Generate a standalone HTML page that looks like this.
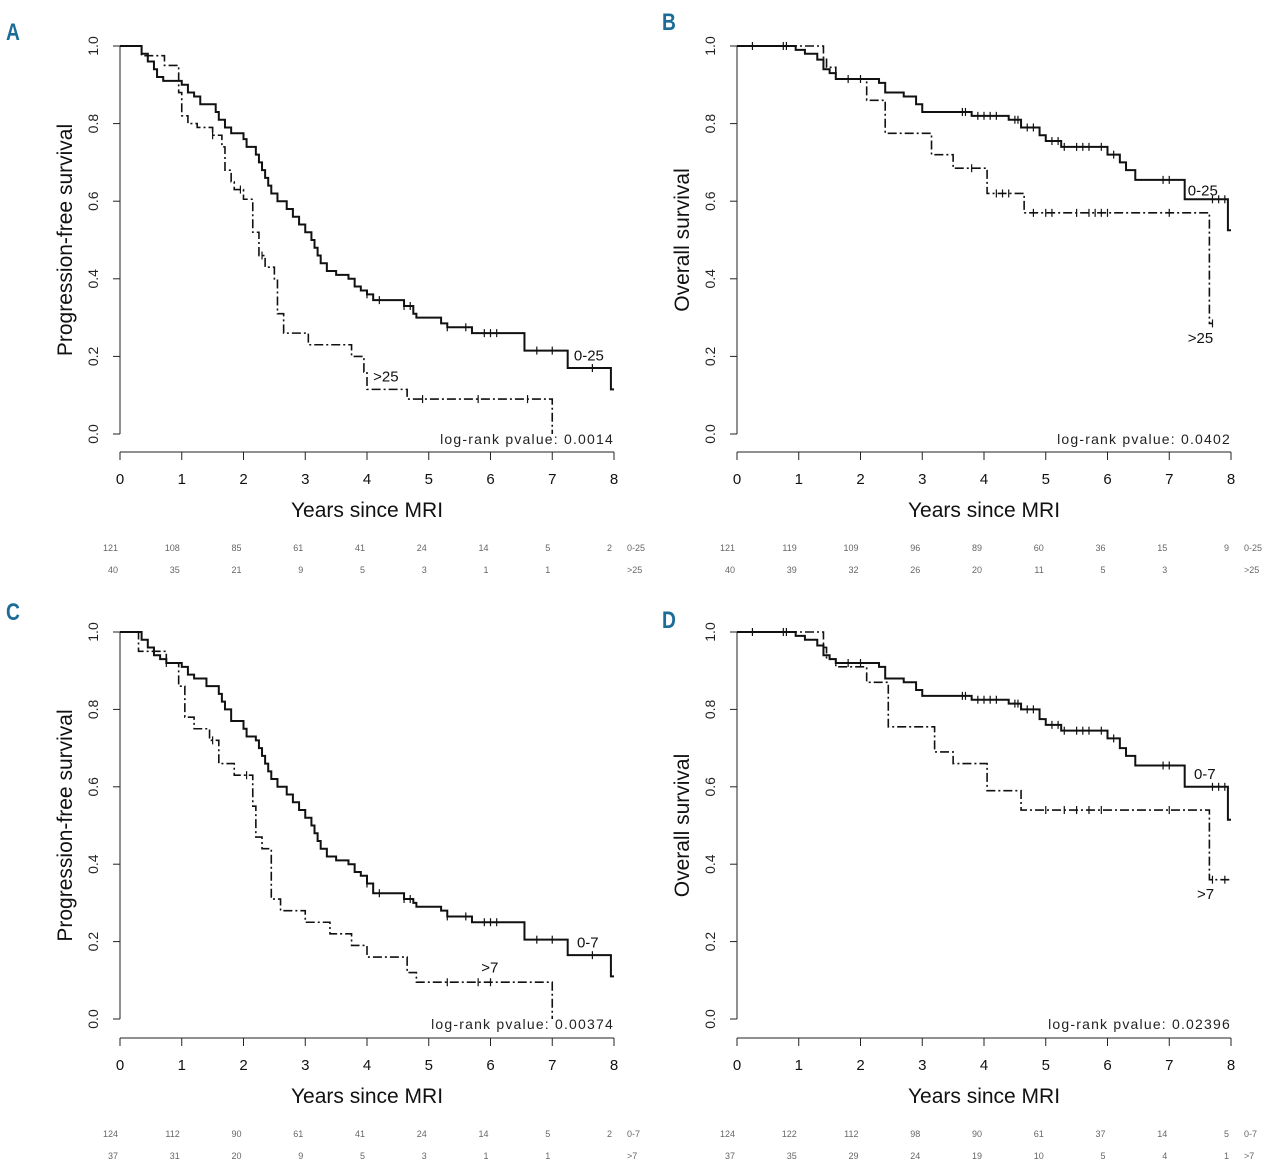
<!DOCTYPE html>
<html><head><meta charset="utf-8"><style>
html,body{margin:0;padding:0;background:#fff;}
svg{display:block;font-family:"Liberation Sans",sans-serif;}
</style></head><body>
<svg id="fig" width="1280" height="1165" viewBox="0 0 1280 1165" xmlns="http://www.w3.org/2000/svg"></svg>
<script>
// ---- data ----
const xTicks=[0,1,2,3,4,5,6,7,8];
const yTicks=[0,0.2,0.4,0.6,0.8,1.0];
// Panel A
const aSolidT=[0,0.35,0.45,0.55,0.6,0.7,1.0,1.1,1.2,1.3,1.55,1.6,1.7,1.8,2.0,2.05,2.2,2.25,2.3,2.35,2.4,2.45,2.55,2.7,2.8,2.9,3.0,3.1,3.15,3.2,3.25,3.35,3.5,3.7,3.8,3.9,4.0,4.1,4.6,4.75,4.8,5.2,5.3,5.7,6.55,7.25,7.95];
const aSolidS=[1,0.98,0.96,0.94,0.92,0.91,0.90,0.88,0.87,0.85,0.83,0.81,0.79,0.775,0.76,0.74,0.72,0.70,0.68,0.66,0.64,0.62,0.60,0.58,0.56,0.54,0.52,0.50,0.48,0.46,0.44,0.42,0.41,0.40,0.38,0.37,0.36,0.345,0.33,0.31,0.30,0.285,0.275,0.26,0.215,0.17,0.115];
const aSolidC=[4.0,4.2,4.6,4.7,5.3,5.6,5.9,6.0,6.1,6.75,7.0,7.65];
const aDashT=[0,0.35,0.72,0.95,1.0,1.1,1.25,1.5,1.65,1.7,1.8,1.85,2.0,2.15,2.25,2.35,2.5,2.55,2.65,3.05,3.75,3.95,4.0,4.65,7.0];
const aDashS=[1,0.975,0.95,0.88,0.82,0.80,0.79,0.77,0.74,0.68,0.65,0.63,0.605,0.52,0.46,0.43,0.40,0.31,0.26,0.23,0.20,0.16,0.115,0.09,0.0];
const aDashC=[1.5,1.95,2.3,4.9,5.8,6.6];
// Panel B
const bSolidT=[0,0.95,1.1,1.3,1.4,1.5,1.6,2.3,2.4,2.7,2.9,3.0,3.8,4.4,4.6,4.9,5.0,5.25,6.0,6.2,6.3,6.45,7.25,7.95];
const bSolidS=[1,0.99,0.98,0.965,0.94,0.93,0.915,0.905,0.88,0.87,0.85,0.83,0.82,0.81,0.79,0.77,0.755,0.74,0.72,0.70,0.68,0.655,0.605,0.525];
const bSolidC=[0.25,0.75,1.8,2.0,3.65,3.7,3.9,4.0,4.1,4.2,4.5,4.55,4.7,4.8,5.1,5.2,5.3,5.5,5.6,5.7,5.9,6.1,6.9,7.0,7.7,7.8,7.9];
const bDashT=[0,1.4,1.45,1.6,1.7,2.1,2.4,3.15,3.5,4.05,4.65,7.65];
const bDashS=[1,0.97,0.945,0.915,0.915,0.86,0.775,0.72,0.685,0.62,0.57,0.285];
const bDashC=[0.8,3.8,4.2,4.3,4.4,4.8,5.0,5.1,5.5,5.7,5.8,5.9,6.0,7.0,7.7];
// Panel C
const cSolidT=[0,0.35,0.45,0.55,0.65,0.75,1.0,1.1,1.2,1.4,1.6,1.65,1.7,1.8,2.0,2.05,2.2,2.25,2.3,2.35,2.4,2.45,2.55,2.7,2.8,2.9,3.0,3.1,3.15,3.2,3.25,3.35,3.5,3.7,3.8,3.9,4.0,4.1,4.6,4.75,4.8,5.2,5.3,5.7,6.55,7.25,7.95];
const cSolidS=[1,0.98,0.96,0.94,0.93,0.92,0.91,0.89,0.88,0.86,0.84,0.82,0.80,0.77,0.75,0.73,0.72,0.70,0.68,0.66,0.64,0.62,0.60,0.58,0.56,0.54,0.52,0.50,0.48,0.46,0.44,0.42,0.41,0.40,0.38,0.37,0.35,0.325,0.31,0.30,0.29,0.28,0.265,0.25,0.205,0.165,0.11];
const cSolidC=[4.0,4.2,4.6,4.7,5.3,5.6,5.9,6.0,6.1,6.75,7.0,7.65];
const cDashT=[0,0.3,0.35,0.75,0.95,1.05,1.2,1.45,1.6,1.85,2.15,2.2,2.3,2.45,2.6,3.0,3.4,3.75,4.0,4.65,4.8,7.0];
const cDashS=[1,0.95,0.95,0.92,0.86,0.78,0.75,0.72,0.66,0.63,0.55,0.47,0.44,0.31,0.28,0.25,0.22,0.19,0.16,0.12,0.095,0.0];
const cDashC=[0.75,1.5,2.05,5.3,5.8,6.0];
// Panel D
const dSolidT=[0,0.95,1.1,1.3,1.4,1.5,1.6,2.3,2.4,2.7,2.9,3.0,3.8,4.4,4.6,4.9,5.0,5.25,6.0,6.2,6.3,6.45,7.25,7.95];
const dSolidS=[1,0.99,0.98,0.965,0.94,0.93,0.92,0.91,0.88,0.87,0.85,0.835,0.825,0.815,0.80,0.775,0.76,0.745,0.725,0.70,0.68,0.655,0.60,0.515];
const dSolidC=[0.25,0.75,1.8,2.0,3.65,3.7,3.9,4.0,4.1,4.2,4.5,4.55,4.7,4.8,5.1,5.2,5.3,5.5,5.6,5.7,5.9,6.1,6.9,7.0,7.7,7.8,7.9];
const dDashT=[0,1.4,1.45,1.6,2.1,2.45,3.2,3.5,4.05,4.6,7.65];
const dDashS=[1,0.96,0.93,0.91,0.87,0.755,0.69,0.66,0.59,0.54,0.36];
const dDashC=[0.8,5.0,5.3,5.5,5.7,5.9,7.0,7.7,7.9];
// at-risk tables
const aRisk1=[121,108,85,61,41,24,14,5,2], aRisk2=[40,35,21,9,5,3,1,1,""];
const bRisk1=[121,119,109,96,89,60,36,15,9], bRisk2=[40,39,32,26,20,11,5,3,""];
const cRisk1=[124,112,90,61,41,24,14,5,2], cRisk2=[37,31,20,9,5,3,1,1,""];
const dRisk1=[124,122,112,98,90,61,37,14,5], dRisk2=[37,35,29,24,19,10,5,4,1];

const NS="http://www.w3.org/2000/svg";
const svg=document.getElementById('fig');
function mk(tag,attrs,parent,text){const e=document.createElementNS(NS,tag);for(const k in attrs)e.setAttribute(k,attrs[k]);if(text!==undefined)e.textContent=text;(parent||svg).appendChild(e);return e;}

function panel(o){
  const g=mk('g',{});
  
  
  const X=v=>o.x0+v*61.75, Y=v=>o.y0-v*(o.y0-o.y1);
  const lab=mk('text',{x:o.lx,y:o.ly,'font-size':24,'font-weight':'bold',fill:'#1b6c96',transform:`translate(${o.lx},0) scale(0.8,1) translate(${-o.lx},0)`},g,o.letter);
  
  
  const ya=mk('line',{x1:o.x0,y1:Y(1),x2:o.x0,y2:Y(0),stroke:'#222','stroke-width':1},g);
  
  
  yTicks.forEach(t=>{
    mk('line',{x1:o.x0-7,y1:Y(t),x2:o.x0,y2:Y(t),stroke:'#222'},g);
    const tl=mk('text',{x:0,y:0,transform:`translate(${o.x0-22},${Y(t)}) rotate(-90)`,'text-anchor':'middle','font-size':14,fill:'#222'},g,t.toFixed(1));
    
    
  });
  const yt=mk('text',{transform:`translate(${o.x0-48},${(Y(0)+Y(1))/2}) rotate(-90)`,'text-anchor':'middle','font-size':21,fill:'#111'},g,o.ytitle);
  
  
  const xa=mk('line',{x1:X(0),y1:o.xa,x2:X(8),y2:o.xa,stroke:'#222'},g);
  
  
  xTicks.forEach(t=>{
    mk('line',{x1:X(t),y1:o.xa,x2:X(t),y2:o.xa+8,stroke:'#222'},g);
    const tl=mk('text',{x:X(t),y:o.xa+32,'text-anchor':'middle','font-size':15,fill:'#111'},g,String(t));
    
    
  });
  const xt=mk('text',{x:X(4),y:o.xa+65,'text-anchor':'middle','font-size':21,fill:'#111'},g,'Years since MRI');
  
  
  function curve(T,S,C,dash,name,endT){
    let d=`M${X(T[0])},${Y(S[0])}`;
    for(let i=1;i<T.length;i++){d+=`H${X(T[i])}V${Y(S[i])}`;}
    d+=`H${X(endT)}`;
    const p=mk('path',{d:d,fill:'none',stroke:'#111','stroke-width':dash?1.6:2,'stroke-dasharray':dash?'9,3,2,3':'none'},g);
    
    
    C.forEach(c=>{
      let s=S[0];for(let i=0;i<T.length;i++){if(T[i]<=c)s=S[i];}
      const m=mk('line',{x1:X(c),y1:Y(s)-4,x2:X(c),y2:Y(s)+4,stroke:'#111','stroke-width':1.2},g);
      
      
    });
  }
  curve(o.sT,o.sS,o.sC,false,'curve-low-group',8);
  curve(o.dT,o.dS,o.dC,true,'curve-high-group',o.dEnd);
  const l1=mk('text',{x:X(o.l1[0]),y:Y(o.l1[1]),'font-size':15,fill:'#111'},g,o.g1);
  
  
  const l2=mk('text',{x:X(o.l2[0]),y:Y(o.l2[1]),'font-size':15,fill:'#111'},g,o.g2);
  
  
  const pv=mk('text',{x:X(8),y:Y(0)+10,'text-anchor':'end','font-size':14,fill:'#222','letter-spacing':'1.2'},g,'log-rank pvalue: '+o.p);
  
  
  [o.r1,o.r2].forEach((row,ri)=>{
    const yy=o.xa+99+ri*22;
    row.forEach((v,i)=>{
      const t=mk('text',{x:X(xTicks[i])-2,y:yy,'text-anchor':'end','font-size':9,fill:'#666'},g,String(v));
      
      
    });
    const gl=mk('text',{x:X(8)+13,y:yy,'font-size':9,fill:'#666'},g,ri?o.g2:o.g1);
    
    
  });
}
panel({letter:'A',lx:6,ly:40,x0:120,y1:46,y0:434,xa:452,ytitle:'Progression-free survival',sT:aSolidT,sS:aSolidS,sC:aSolidC,dT:aDashT,dS:aDashS,dC:aDashC,dEnd:7.0,g1:'0-25',g2:'>25',l1:[7.35,0.19],l2:[4.1,0.135],p:'0.0014',r1:aRisk1,r2:aRisk2});
panel({letter:'B',lx:662,ly:30,x0:737,y1:46,y0:434,xa:452,ytitle:'Overall survival',sT:bSolidT,sS:bSolidS,sC:bSolidC,dT:bDashT,dS:bDashS,dC:bDashC,dEnd:7.7,g1:'0-25',g2:'>25',l1:[7.3,0.615],l2:[7.3,0.235],p:'0.0402',r1:bRisk1,r2:bRisk2});
panel({letter:'C',lx:6,ly:620,x0:120,y1:632,y0:1019,xa:1038,ytitle:'Progression-free survival',sT:cSolidT,sS:cSolidS,sC:cSolidC,dT:cDashT,dS:cDashS,dC:cDashC,dEnd:7.0,g1:'0-7',g2:'>7',l1:[7.4,0.185],l2:[5.85,0.12],p:'0.00374',r1:cRisk1,r2:cRisk2});
panel({letter:'D',lx:662,ly:628,x0:737,y1:632,y0:1019,xa:1038,ytitle:'Overall survival',sT:dSolidT,sS:dSolidS,sC:dSolidC,dT:dDashT,dS:dDashS,dC:dDashC,dEnd:8,g1:'0-7',g2:'>7',l1:[7.4,0.62],l2:[7.45,0.31],p:'0.02396',r1:dRisk1,r2:dRisk2});
</script>
</body></html>
